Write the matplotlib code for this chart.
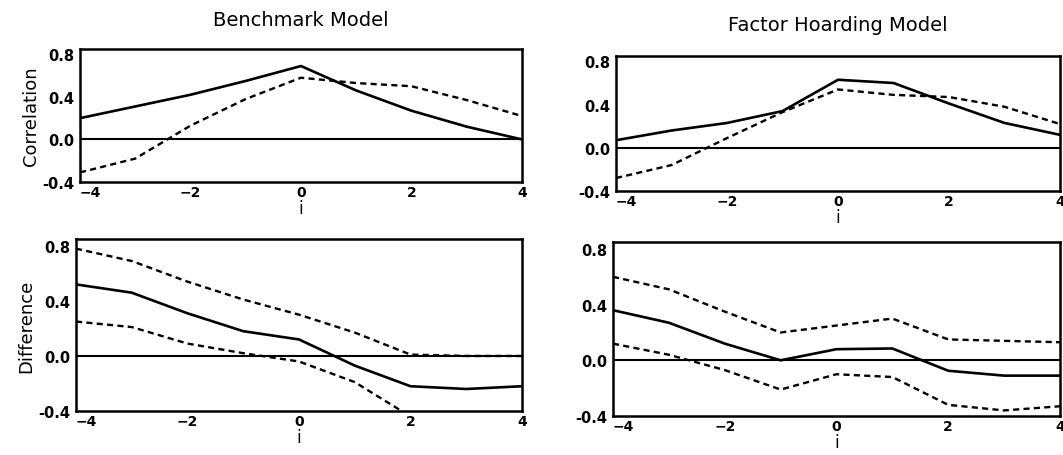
import matplotlib
matplotlib.use("Agg")
from matplotlib import pyplot as plt

# lead/lag index
lags = [-4, -3, -2, -1, 0, 1, 2, 3, 4]

# benchmark model: correlations (model = solid, data = dashed)
benchModel = [0.20, 0.31, 0.42, 0.55, 0.69, 0.46, 0.27, 0.12, 0.00]
benchData = [-0.31, -0.18, 0.13, 0.38, 0.58, 0.53, 0.50, 0.37, 0.22]

# factor hoarding model: correlations
hoardModel = [0.07, 0.16, 0.23, 0.34, 0.63, 0.60, 0.41, 0.23, 0.12]
hoardData = [-0.28, -0.16, 0.09, 0.33, 0.54, 0.49, 0.47, 0.38, 0.22]

# differences with confidence bands
benchDiff = [0.52, 0.46, 0.31, 0.18, 0.12, -0.07, -0.22, -0.24, -0.22]
benchUpper = [0.78, 0.69, 0.54, 0.41, 0.30, 0.17, 0.01, 0.00, 0.00]
benchLower = [0.25, 0.21, 0.09, 0.02, -0.04, -0.19, -0.44, -0.48, -0.46]

hoardDiff = [0.36, 0.27, 0.12, 0.00, 0.08, 0.085, -0.075, -0.11, -0.11]
hoardUpper = [0.60, 0.51, 0.35, 0.20, 0.25, 0.30, 0.15, 0.14, 0.13]
hoardLower = [0.12, 0.04, -0.07, -0.21, -0.10, -0.12, -0.32, -0.36, -0.33]

yTicks = [-0.4, 0.0, 0.4, 0.8]
xTicks = [-4, -2, 0, 2, 4]

W, H = 1063, 456


def makeAxes(fig, left, top, right, bottom):
    # pixel box -> figure fraction
    return fig.add_axes([left / W, (H - bottom) / H, (right - left) / W, (bottom - top) / H])


def styleAxes(ax):
    ax.set_xlim(-4, 4)
    ax.set_ylim(-0.4, 0.85)
    ax.set_xticks(xTicks)
    ax.set_yticks(yTicks)
    ax.set_yticklabels(["%.1f" % v for v in yTicks])
    ax.tick_params(length=0, labelsize=10.5, pad=4)
    ax.tick_params(axis="x", labelsize=10, pad=2)
    for lab in ax.get_xticklabels() + ax.get_yticklabels():
        lab.set_fontweight("bold")
    # first x label starts at the spine, like the original
    ax.get_xticklabels()[0].set_horizontalalignment("left")
    for s in ax.spines.values():
        s.set_linewidth(1.8)
    ax.axhline(0, color="black", lw=1.5)
    ax.set_xlabel("i", fontsize=12, labelpad=0)


def solid(ax, y):
    ax.plot(lags, y, color="black", lw=1.9)


def dashed(ax, y):
    ax.plot(lags, y, color="black", lw=1.7, dashes=(2.6, 1.8))


fig = plt.figure(figsize=(W / 100, H / 100), dpi=100)

ax1 = makeAxes(fig, 80, 50, 522, 183)
styleAxes(ax1)
solid(ax1, benchModel)
dashed(ax1, benchData)
ax1.set_ylabel("Correlation", fontsize=13, labelpad=2)
ax1.set_title("Benchmark Model", fontsize=14, pad=17)

ax2 = makeAxes(fig, 616, 57, 1060, 192)
styleAxes(ax2)
solid(ax2, hoardModel)
dashed(ax2, hoardData)
ax2.set_title("Factor Hoarding Model", fontsize=14, pad=19)

ax3 = makeAxes(fig, 76, 240, 522, 412)
styleAxes(ax3)
solid(ax3, benchDiff)
dashed(ax3, benchUpper)
dashed(ax3, benchLower)
ax3.set_ylabel("Difference", fontsize=13, labelpad=2)

ax4 = makeAxes(fig, 613, 243, 1060, 417)
styleAxes(ax4)
solid(ax4, hoardDiff)
dashed(ax4, hoardUpper)
dashed(ax4, hoardLower)

fig.savefig("out.png", dpi=100)
